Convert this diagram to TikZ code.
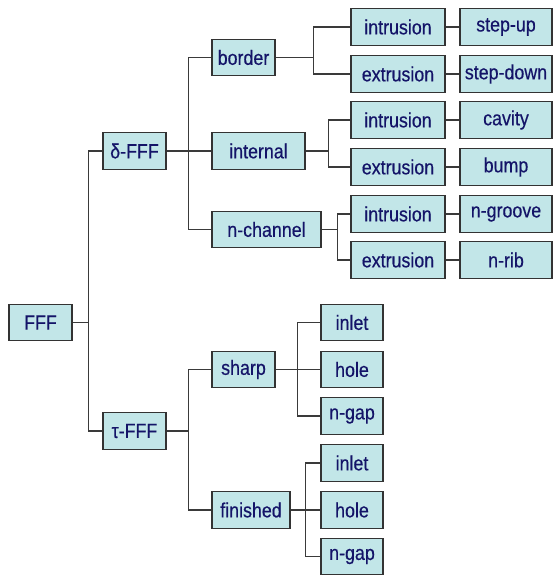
\documentclass[tikz,border=0pt]{standalone}
\usepackage{fontspec}
\setmainfont[FakeStretch=0.87,FakeBold=0.4]{Liberation Sans}
\definecolor{boxfill}{HTML}{C2E6E8}
\definecolor{boxdraw}{HTML}{333333}
\definecolor{navy}{HTML}{141468}
\definecolor{linec}{HTML}{3A3A3A}
\tikzset{
  box/.style={draw=boxdraw, fill=boxfill, line width=1.4pt, minimum height=36.5pt,
    inner sep=0pt, text=navy, font=\fontsize{20.5}{21}\selectfont},
  conn/.style={draw=linec, line width=1.4pt}
}
\begin{document}
\begin{tikzpicture}[x=1pt,y=-1pt]
\useasboundingbox (0,0) rectangle (553,577);
% nodes
\node[box, minimum width=63pt] (FFF) at (40.5,322.5) {FFF};
\node[box, minimum width=63pt] (dF) at (134.5,151) {δ-FFF};
\node[box, minimum width=63pt] (tF) at (134.5,431) {τ-FFF};
\node[box, minimum width=63pt] (border) at (243.5,57.5) {border};
\node[box, minimum width=93pt] (internal) at (258.5,151) {internal};
\node[box, minimum width=109pt] (nch) at (266.5,229.5) {n-channel};
\node[box, minimum width=94pt] (i1) at (398,27) {intrusion};
\node[box, minimum width=94pt] (e1) at (398,74) {extrusion};
\node[box, minimum width=94pt] (i2) at (398,120) {intrusion};
\node[box, minimum width=94pt] (e2) at (398,167) {extrusion};
\node[box, minimum width=94pt] (i3) at (398,214) {intrusion};
\node[box, minimum width=94pt] (e3) at (398,260) {extrusion};
\node[box, minimum width=92pt] (r1) at (506,27) {step-up};
\node[box, minimum width=92pt] (r2) at (506,74) {step-down};
\node[box, minimum width=92pt] (r3) at (506,120) {cavity};
\node[box, minimum width=92pt] (r4) at (506,167) {bump};
\node[box, minimum width=92pt] (r5) at (506,214) {n-groove};
\node[box, minimum width=92pt] (r6) at (506,260) {n-rib};
\node[box, minimum width=63pt] (sharp) at (243.5,369.5) {sharp};
\node[box, minimum width=78pt] (fin) at (251,510) {finished};
\node[box, minimum width=62pt] (l1) at (352,322.5) {inlet};
\node[box, minimum width=62pt] (l2) at (352,369.5) {hole};
\node[box, minimum width=62pt] (l3) at (352,416) {n-gap};
\node[box, minimum width=62pt] (l4) at (352,463) {inlet};
\node[box, minimum width=62pt] (l5) at (352,510) {hole};
\node[box, minimum width=62pt] (l6) at (352,556.5) {n-gap};
% connectors
\draw[conn] (FFF.east) -- ++(16,0) |- (dF.west);
\draw[conn] (FFF.east) -- ++(16,0) |- (tF.west);
\draw[conn] (dF.east) -- ++(22,0) |- (border.west);
\draw[conn] (dF.east) -- (internal.west);
\draw[conn] (dF.east) -- ++(22,0) |- (nch.west);
\draw[conn] (border.east) -- ++(38,0) |- (i1.west);
\draw[conn] (border.east) -- ++(38,0) |- (e1.west);
\draw[conn] (internal.east) -- ++(23,0) |- (i2.west);
\draw[conn] (internal.east) -- ++(23,0) |- (e2.west);
\draw[conn] (nch.east) -- ++(16,0) |- (i3.west);
\draw[conn] (nch.east) -- ++(16,0) |- (e3.west);
\draw[conn] (i1.east) -- (r1.west);
\draw[conn] (e1.east) -- (r2.west);
\draw[conn] (i2.east) -- (r3.west);
\draw[conn] (e2.east) -- (r4.west);
\draw[conn] (i3.east) -- (r5.west);
\draw[conn] (e3.east) -- (r6.west);
\draw[conn] (tF.east) -- ++(22,0) |- (sharp.west);
\draw[conn] (tF.east) -- ++(22,0) |- (fin.west);
\draw[conn] (sharp.east) -- ++(22,0) |- (l1.west);
\draw[conn] (sharp.east) -- (l2.west);
\draw[conn] (sharp.east) -- ++(22,0) |- (l3.west);
\draw[conn] (fin.east) -- ++(15,0) |- (l4.west);
\draw[conn] (fin.east) -- (l5.west);
\draw[conn] (fin.east) -- ++(15,0) |- (l6.west);
\end{tikzpicture}
\end{document}
